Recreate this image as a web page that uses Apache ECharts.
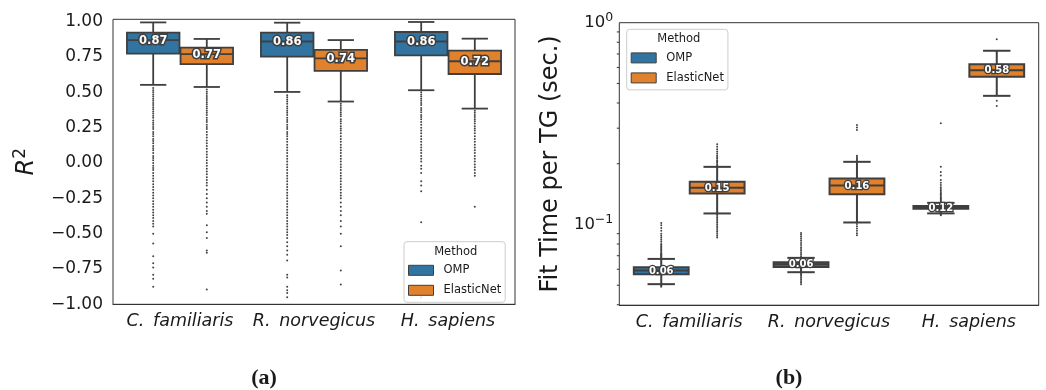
<!DOCTYPE html>
<html><head><meta charset="utf-8">
<script src="https://cdn.jsdelivr.net/npm/echarts@6/dist/echarts.min.js"></script>
<style>html,body{margin:0;padding:0;background:#fff}#c{width:1046px;height:390px}</style>
</head><body><div id="c"></div>
<script>
const categories = ['C. familiaris', 'R. norvegicus', 'H. sapiens'];
const methods = ['OMP', 'ElasticNet'];
const r2Ticks = [-1, -0.75, -0.5, -0.25, 0, 0.25, 0.5, 0.75, 1];
const timeMinorTicks = [0.04, 0.05, 0.06, 0.07, 0.08, 0.09, 0.2, 0.3, 0.4, 0.5, 0.6, 0.7, 0.8, 0.9];

// box stats per category: [whiskerLow, q1, median, q3, whiskerHigh]
const r2OMP = [[0.553, 0.774, 0.87, 0.922, 0.995], [0.503, 0.753, 0.86, 0.922, 0.993], [0.515, 0.762, 0.86, 0.927, 0.998]];
const r2EN  = [[0.538, 0.700, 0.77, 0.816, 0.878], [0.435, 0.652, 0.74, 0.800, 0.870], [0.385, 0.630, 0.72, 0.795, 0.880]];
const timeOMP = [[0.0506, 0.0567, 0.0591, 0.0614, 0.0675], [0.0580, 0.0615, 0.0635, 0.0650, 0.0683], [0.1135, 0.1195, 0.1214, 0.1235, 0.1280]];
const timeEN  = [[0.1134, 0.1425, 0.152, 0.1627, 0.193], [0.1023, 0.1413, 0.156, 0.169, 0.2044], [0.434, 0.540, 0.581, 0.622, 0.726]];

// outliers per category
const r2OutOMP = [
  [0.53,0.515,0.50,0.485,0.47,0.455,0.44,0.425,0.41,0.395,0.38,0.365,0.35,0.335,0.32,0.30,0.285,0.27,0.255,0.24,0.22,0.205,0.19,0.17,0.155,0.14,0.12,0.105,0.09,0.07,0.05,0.035,0.02,0.0,-0.02,-0.035,-0.05,-0.07,-0.09,-0.11,-0.13,-0.15,-0.17,-0.19,-0.21,-0.23,-0.25,-0.27,-0.29,-0.31,-0.33,-0.35,-0.37,-0.39,-0.41,-0.43,-0.45,-0.50,-0.57,-0.66,-0.71,-0.74,-0.79,-0.82,-0.875],
  [0.48,0.465,0.45,0.435,0.42,0.40,0.385,0.37,0.355,0.34,0.32,0.305,0.29,0.27,0.255,0.24,0.22,0.205,0.19,0.17,0.15,0.13,0.11,0.09,0.07,0.05,0.03,0.01,-0.01,-0.03,-0.05,-0.07,-0.09,-0.11,-0.13,-0.15,-0.17,-0.19,-0.21,-0.23,-0.25,-0.27,-0.29,-0.31,-0.33,-0.35,-0.37,-0.39,-0.41,-0.43,-0.45,-0.47,-0.49,-0.51,-0.53,-0.56,-0.59,-0.62,-0.65,-0.69,-0.79,-0.81,-0.875,-0.90,-0.92,-0.95],
  [0.50,0.485,0.47,0.455,0.44,0.425,0.41,0.39,0.375,0.36,0.34,0.325,0.31,0.29,0.27,0.25,0.23,0.21,0.19,0.17,0.15,0.13,0.11,0.09,0.07,0.05,0.03,0.01,-0.02,-0.04,-0.07,-0.13,-0.16,-0.20,-0.42,-0.95]
];
const r2OutEN = [
  [0.52,0.505,0.49,0.475,0.46,0.445,0.43,0.415,0.40,0.385,0.37,0.355,0.34,0.32,0.305,0.29,0.27,0.255,0.24,0.22,0.20,0.18,0.16,0.14,0.12,0.10,0.08,0.06,0.04,0.02,0.0,-0.02,-0.04,-0.06,-0.08,-0.10,-0.12,-0.14,-0.16,-0.19,-0.22,-0.25,-0.28,-0.31,-0.34,-0.36,-0.44,-0.49,-0.53,-0.62,-0.635,-0.895],
  [0.42,0.405,0.39,0.375,0.36,0.345,0.33,0.31,0.295,0.28,0.26,0.245,0.23,0.21,0.19,0.17,0.15,0.13,0.11,0.09,0.07,0.05,0.03,0.01,-0.01,-0.03,-0.05,-0.07,-0.09,-0.11,-0.13,-0.15,-0.17,-0.19,-0.21,-0.23,-0.25,-0.28,-0.31,-0.34,-0.37,-0.41,-0.45,-0.50,-0.59,-0.76,-0.86],
  [0.37,0.355,0.34,0.325,0.31,0.295,0.28,0.26,0.245,0.23,0.21,0.19,0.17,0.15,0.13,0.11,0.09,0.07,0.05,0.03,0.01,-0.01,-0.03,-0.05,-0.07,-0.09,-0.31]
];
const timeOutOMP = [
  [0.0685,0.069,0.0695,0.070,0.0705,0.071,0.0715,0.072,0.073,0.074,0.075,0.076,0.077,0.078,0.079,0.080,0.082,0.084,0.086,0.088,0.090,0.093,0.096,0.099,0.1018,0.0500,0.0495,0.0491],
  [0.0695,0.071,0.0725,0.074,0.0755,0.077,0.079,0.081,0.083,0.085,0.087,0.089,0.0908,0.0572,0.0563,0.0555,0.0545,0.0535,0.0525,0.0515,0.0506],
  [0.1295,0.131,0.1325,0.134,0.1355,0.137,0.139,0.141,0.143,0.145,0.1475,0.150,0.153,0.157,0.161,0.166,0.175,0.182,0.193,0.317,0.1128,0.1120,0.1112]
];
const timeOutEN = [
  [0.196,0.199,0.202,0.205,0.208,0.212,0.216,0.220,0.225,0.230,0.236,0.243,0.250,0.112,0.110,0.108,0.106,0.104,0.102,0.100,0.098,0.096,0.094,0.092,0.090,0.088,0.0862],
  [0.207,0.210,0.213,0.216,0.219,0.2935,0.302,0.311,0.1005,0.098,0.0955,0.093,0.0905,0.0885],
  [0.827,0.41,0.386]
];

const BLUE = '#3274A1', ORANGE = '#E1812C', EDGE = '#3f3f3f', INK = '#1a1a1a';
const FONT = 'DejaVu Sans';

function boxRender(offset, lw, labelSize, strokeW) {
  return function (params, api) {
    const ci = api.value(0);
    const cs = params.coordSys;
    const band = cs.width / categories.length;
    const xc = api.coord([ci, api.value(3)])[0] + offset * band;
    const w = band * 0.392;
    const y = i => api.coord([ci, api.value(i)])[1];
    const yLo = y(1), yQ1 = y(2), yMed = y(3), yQ3 = y(4), yHi = y(5);
    const cap = w * 0.25;
    const line = (x1, y1, x2, y2) => ({type: 'line', shape: {x1, y1, x2, y2}, style: {stroke: EDGE, lineWidth: lw}});
    const label = api.value(3).toFixed(2);
    const txt = (fill, stroke) => ({type: 'text', style: {text: label, x: xc, y: yMed + 0.5, align: 'center', verticalAlign: 'middle',
      fontSize: labelSize, fontWeight: 'bold', fontFamily: FONT, fill: fill, stroke: stroke, lineWidth: stroke ? strokeW : 0}});
    return {type: 'group', children: [
      line(xc, yQ3, xc, yHi), line(xc, yQ1, xc, yLo),
      line(xc - cap, yHi, xc + cap, yHi), line(xc - cap, yLo, xc + cap, yLo),
      {type: 'rect', shape: {x: xc - w / 2, y: yQ3, width: w, height: yQ1 - yQ3}, style: {fill: api.visual('color'), stroke: EDGE, lineWidth: lw}},
      line(xc - w / 2, yMed, xc + w / 2, yMed),
      txt(EDGE, EDGE), txt('#ffffff', null)
    ]};
  };
}
function outRender(offset) {
  return function (params, api) {
    const band = params.coordSys.width / categories.length;
    const p = api.coord([api.value(0), api.value(1)]);
    return {type: 'circle', shape: {cx: p[0] + offset * band, cy: p[1], r: 1}, style: {fill: '#444'}};
  };
}
const boxData = stats => stats.map((s, i) => [i].concat(s));
const outData = outs => { const d = []; outs.forEach((arr, i) => arr.forEach(v => d.push([i, v]))); return d; };

function boxSeries(name, color, stats, offset, gi, lw, ls, sw) {
  return {type: 'custom', name: name, xAxisIndex: gi, yAxisIndex: gi, data: boxData(stats),
    encode: {x: 0, y: [1, 2, 3, 4, 5]}, itemStyle: {color: color, borderColor: EDGE, borderWidth: 1},
    renderItem: boxRender(offset, lw, ls, sw), z: 3, clip: false};
}
function outSeries(outs, offset, gi) {
  return {type: 'custom', name: 'out', xAxisIndex: gi, yAxisIndex: gi, data: outData(outs),
    encode: {x: 0, y: 1}, renderItem: outRender(offset), z: 2, clip: false};
}

const axisCommon = {
  axisLine: {onZero: false, lineStyle: {color: '#333', width: 1}},
  axisTick: {lineStyle: {color: '#333', width: 1}, length: 4.5},
  splitLine: {show: false}
};
const supRich = {
  b: {fontSize: 16.5, fontFamily: FONT, color: INK, lineHeight: 22},
  s: {fontSize: 12.5, fontFamily: FONT, color: INK, lineHeight: 13, verticalAlign: 'top'}
};
const legendCommon = {
  data: methods, orient: 'vertical', itemWidth: 25, itemHeight: 10, itemGap: 8, icon: 'rect',
  padding: [22.6, 4, 6, 4], backgroundColor: 'rgba(255,255,255,0.8)', borderColor: '#cccccc', borderWidth: 1, borderRadius: 3,
  textStyle: {fontSize: 11.5, fontFamily: FONT, color: INK, padding: [0, 0, 0, 5]},
  itemStyle: {borderColor: EDGE, borderWidth: 1}, selectedMode: false
};

const minorTickSeries = {
  type: 'custom', name: 'minor', xAxisIndex: 1, yAxisIndex: 1, clip: false, z: 5,
  data: timeMinorTicks.map(v => [0, v]), encode: {x: 0, y: 1},
  renderItem: function (params, api) {
    const yy = api.coord([0, api.value(1)])[1];
    const x0 = params.coordSys.x;
    return {type: 'line', shape: {x1: x0 - 2.5, y1: yy, x2: x0, y2: yy}, style: {stroke: '#333', lineWidth: 1}};
  }
};

const option = {
  animation: false,
  textStyle: {fontFamily: FONT},
  grid: [
    {left: 113, top: 19.3, width: 402, height: 285, show: true, borderColor: '#333', borderWidth: 1, containLabel: false},
    {left: 619.3, top: 22.7, width: 419.4, height: 282.5, show: true, borderColor: '#333', borderWidth: 1, containLabel: false}
  ],
  xAxis: [0, 1].map(gi => Object.assign({}, axisCommon, {
    type: 'category', gridIndex: gi, data: categories,
    axisTick: {alignWithLabel: true, lineStyle: {color: '#333'}, length: 4.5},
    axisLabel: {interval: 0, fontSize: 17.5, fontStyle: 'italic', fontFamily: FONT, color: INK, margin: 8, hideOverlap: false,
      formatter: v => v.replace('. ', '.\u2002')}
  })),
  yAxis: [
    Object.assign({}, axisCommon, {
      type: 'value', gridIndex: 0, min: -1, max: 1.017,
      axisTick: {customValues: r2Ticks, lineStyle: {color: '#333'}, length: 4.5},
      axisLabel: {customValues: r2Ticks, fontSize: 17, fontFamily: FONT, color: INK, margin: 10,
        formatter: v => v.toFixed(2).replace('-', '\u2212')},
      name: '{i|R}{s|2}', nameLocation: 'middle', nameGap: 71, nameRotate: 90,
      nameTextStyle: {rich: {i: {fontSize: 24, fontStyle: 'italic', fontFamily: FONT, color: INK, lineHeight: 30},
        s: {fontSize: 17, fontFamily: FONT, color: INK, lineHeight: 18, verticalAlign: 'top'}}}
    }),
    Object.assign({}, axisCommon, {
      type: 'log', logBase: 10, gridIndex: 1, min: 0.0398, max: 1,
      axisLabel: {fontFamily: FONT, color: INK, margin: 6, rich: supRich,
        formatter: v => Math.abs(v - 1) < 1e-9 ? '{b|10}{s|0}' : (Math.abs(v - 0.1) < 1e-9 ? '{b|10}{s|\u22121}' : '')},
      name: 'Fit Time per TG (sec.)', nameLocation: 'middle', nameGap: 57, nameRotate: 90,
      nameTextStyle: {fontSize: 24, fontFamily: FONT, color: INK}
    })
  ],
  legend: [
    Object.assign({}, legendCommon, {left: 404, top: 241.7}),
    Object.assign({}, legendCommon, {left: 626.7, top: 29.3})
  ],
  graphic: [
    {type: 'text', z: 100, x: 455.7, y: 251.7, style: {text: 'Method', align: 'center', verticalAlign: 'middle', fontSize: 11.5, fontFamily: FONT, fill: INK}},
    {type: 'text', z: 100, x: 678.8, y: 39, style: {text: 'Method', align: 'center', verticalAlign: 'middle', fontSize: 11.5, fontFamily: FONT, fill: INK}},
    {type: 'text', x: 264, y: 378, style: {text: '(a)', align: 'center', verticalAlign: 'middle', fontSize: 22, fontWeight: 'bold', fontFamily: 'Liberation Serif', fill: INK}},
    {type: 'text', x: 789, y: 378, style: {text: '(b)', align: 'center', verticalAlign: 'middle', fontSize: 22, fontWeight: 'bold', fontFamily: 'Liberation Serif', fill: INK}}
  ],
  series: [
    outSeries(r2OutOMP, -0.2, 0), outSeries(r2OutEN, 0.2, 0),
    boxSeries('OMP', BLUE, r2OMP, -0.2, 0, 1.8, 11.5, 3),
    boxSeries('ElasticNet', ORANGE, r2EN, 0.2, 0, 1.8, 11.5, 3),
    outSeries(timeOutOMP, -0.2, 1), outSeries(timeOutEN, 0.2, 1),
    boxSeries('OMP', BLUE, timeOMP, -0.2, 1, 2, 10, 2.6),
    boxSeries('ElasticNet', ORANGE, timeEN, 0.2, 1, 2, 10, 2.6),
    minorTickSeries
  ]
};
const chart = echarts.init(document.getElementById('c'), null, {renderer: 'canvas'});
chart.setOption(option);
</script></body></html>
